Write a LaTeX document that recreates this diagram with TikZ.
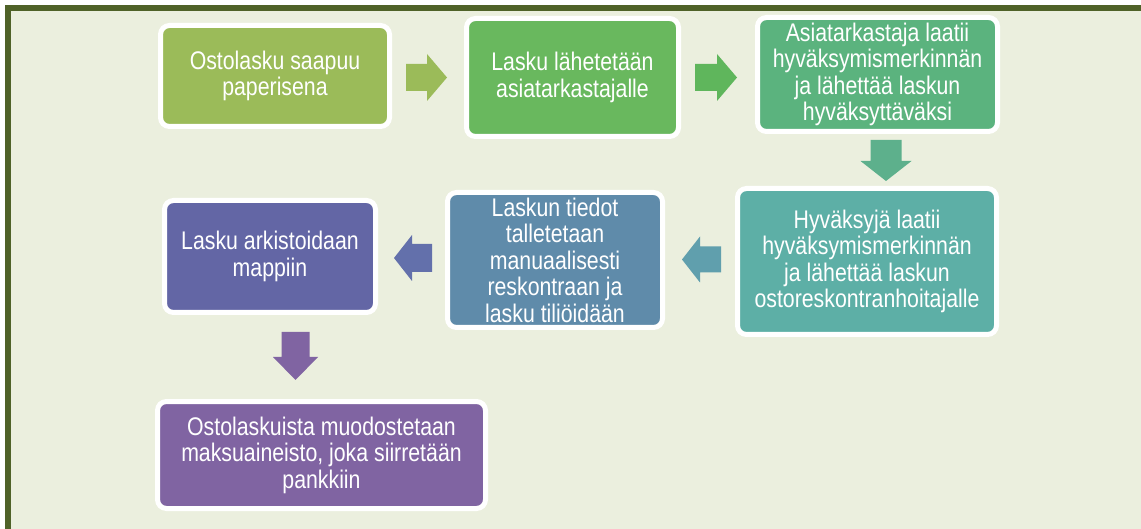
\documentclass[tikz,border=0pt]{standalone}
\usepackage{fontspec}
\setmainfont{Liberation Sans}[FakeStretch=0.835]
\definecolor{bordergreen}{HTML}{4F6228}
\definecolor{bgc}{HTML}{EBEFDE}
\definecolor{cA}{HTML}{9BBB59}
\definecolor{cB}{HTML}{69B85E}
\definecolor{cC}{HTML}{5BB37E}
\definecolor{cD}{HTML}{5DAFA6}
\definecolor{cE}{HTML}{5F8BAA}
\definecolor{cF}{HTML}{6366A5}
\definecolor{cG}{HTML}{8064A2}
\definecolor{aB}{HTML}{5FB65C}
\definecolor{aC}{HTML}{5DB08C}
\definecolor{aD}{HTML}{609FAD}
\definecolor{aE}{HTML}{6370AB}
\begin{document}
\begin{tikzpicture}[x=1pt,y=-1pt,
  box/.style={draw=white, line width=5pt, rounded corners=9pt, text=white,
    align=center, inner sep=0pt, font=\fontsize{25.5}{26.5}\selectfont}]
\useasboundingbox (0,0) rectangle (1141,529);
% background and frame
\fill[white] (0,0) rectangle (1141,529);
\fill[bgc] (11,11) rectangle (1141,529);
\fill[bordergreen] (5,5) rectangle (1141,11);
\fill[bordergreen] (5,5) rectangle (11,529);
% boxes
\node[box, fill=cA, minimum width=229pt, minimum height=101pt] (b1) at (275,76)
  {Ostolasku saapuu\\paperisena};
\node[box, fill=cB, minimum width=212pt, minimum height=118pt] (b2) at (572.5,77.5)
  {Lasku lähetetään\\asiatarkastajalle};
\node[box, fill=cC, minimum width=240pt, minimum height=114pt] (b3) at (877.5,74.5)
  {Asiatarkastaja laatii\\hyväksymismerkinnän\\ja lähettää laskun\\hyväksyttäväksi};
\node[box, fill=cD, minimum width=259pt, minimum height=146pt] (b4) at (867,261.5)
  {Hyväksyjä laatii\\hyväksymismerkinnän\\ja lähettää laskun\\ostoreskontranhoitajalle};
\node[box, fill=cE, minimum width=215pt, minimum height=135pt] (b5) at (555,260)
  {Laskun tiedot\\talletetaan\\manuaalisesti\\reskontraan ja\\lasku tiliöidään};
\node[box, fill=cF, minimum width=211pt, minimum height=112pt] (b6) at (270,256.5)
  {Lasku arkistoidaan\\mappiin};
\node[box, fill=cG, minimum width=328pt, minimum height=107pt] (b7) at (321.5,455)
  {Ostolaskuista muodostetaan\\maksuaineisto, joka siirretään\\pankkiin};
% block arrows
\fill[cA, shift={(406,77.5)}] (0,-13.5) -- (21,-13.5) -- (21,-23.5) -- (41,0)
  -- (21,23.5) -- (21,13.5) -- (0,13.5) -- cycle;
\fill[aB, shift={(695,77.5)}] (0,-13.5) -- (22,-13.5) -- (22,-23.5) -- (42,0)
  -- (22,23.5) -- (22,13.5) -- (0,13.5) -- cycle;
\fill[aC, shift={(886,140)}] (-15.5,0) -- (15.5,0) -- (15.5,21) -- (25.5,21)
  -- (0,41) -- (-25.5,21) -- (-15.5,21) -- cycle;
\fill[aD, shift={(682,259.5)}] (0,0) -- (18,-23) -- (18,-13) -- (39,-13)
  -- (39,13) -- (18,13) -- (18,23) -- cycle;
\fill[aE, shift={(394,258)}] (0,0) -- (18,-23) -- (18,-14) -- (38,-14)
  -- (38,14) -- (18,14) -- (18,23) -- cycle;
\fill[cG, shift={(295.5,332)}] (-14,0) -- (14,0) -- (14,25) -- (22.5,25)
  -- (0,48) -- (-22.5,25) -- (-14,25) -- cycle;
\end{tikzpicture}
\end{document}
